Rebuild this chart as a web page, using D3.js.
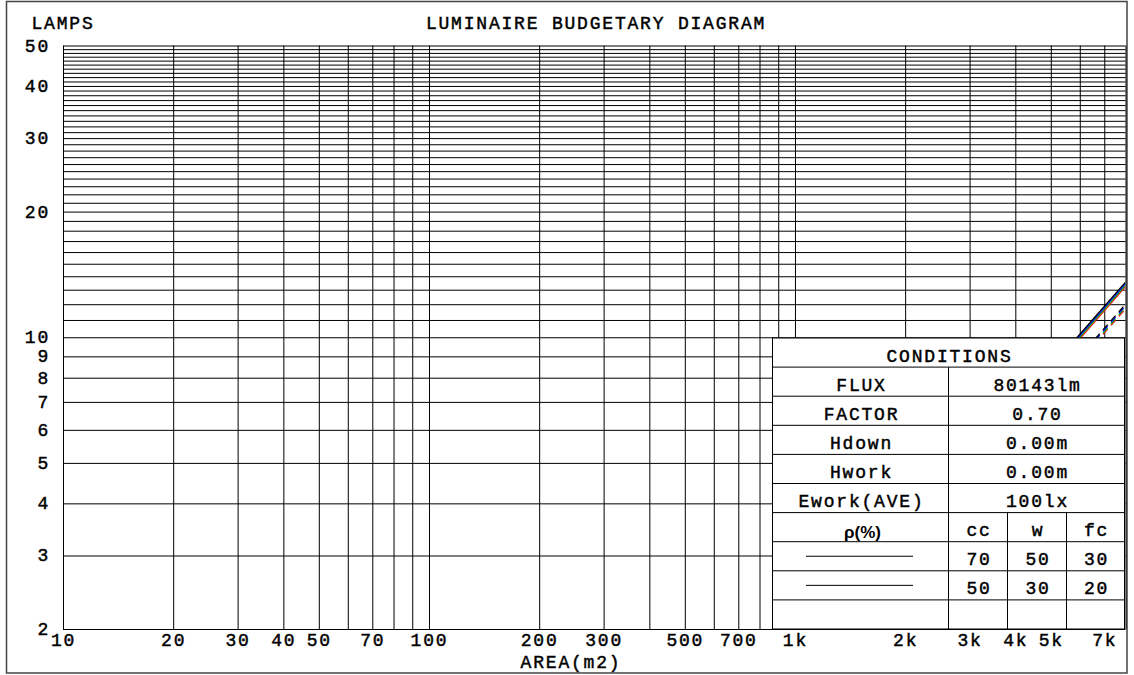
<!DOCTYPE html>
<html>
<head>
<meta charset="utf-8">
<script src="https://cdn.jsdelivr.net/npm/d3@7"></script>
<style>
  html, body { margin: 0; padding: 0; background: #fff; }
  svg { display: block; }
  .mono { font-family: "Liberation Mono", "DejaVu Sans Mono", monospace; font-size: 18px; letter-spacing: 1.8px; fill: #000; stroke: #000; stroke-width: 0.45px; }
</style>
</head>
<body>
<svg id="chart" width="1134" height="675"></svg>
<script>
// ---------- data ----------
const xTickValues = [10, 20, 30, 40, 50, 70, 100, 200, 300, 500, 700, 1000, 2000, 3000, 4000, 5000, 7000];
const xTickLabels = ["10", "20", "30", "40", "50", "70", "100", "200", "300", "500", "700", "1k", "2k", "3k", "4k", "5k", "7k"];
const xGridValues = [10, 20, 30, 40, 50, 60, 70, 80, 90,
                     100, 200, 300, 400, 500, 600, 700, 800, 900,
                     1000, 2000, 3000, 4000, 5000, 6000, 7000, 8000];
const yTickValues = [2, 3, 4, 5, 6, 7, 8, 9, 10, 20, 30, 40, 50];
const yGridValues = d3.range(2, 51);

// lamp lines: area end points and lamps read at those areas
const lineAreas = [2000, 8000];
const solidBlack = [3.39, 13.55];
const solidBlue  = [3.36, 13.44];
const solidGreen = [3.33, 13.33];
const solidRed   = [3.31, 13.22];
const dashBlack  = [3.00, 12.00];
const dashBlue   = [2.98, 11.90];
const dashGreen  = [2.95, 11.80];
const dashRed    = [2.93, 11.70];

const condLabels = ["FLUX", "FACTOR", "Hdown", "Hwork", "Ework(AVE)"];
const condValues = ["80143lm", "0.70", "0.00m", "0.00m", "100lx"];
const reflHeaders = ["cc", "w", "fc"];
const reflRows = [[70, 50, 30], [50, 30, 20]];

// ---------- layout ----------
const svg = d3.select("#chart");
const x = d3.scaleLog().domain([10, 8000]).range([63, 1125.5]);
const y = d3.scaleLog().domain([2, 50]).range([629, 45.5]);
const x0 = x.range()[0], x1 = x.range()[1], yb = y.range()[0], yt = y.range()[1];

// outer frame
svg.append("rect").attr("x", 6.5).attr("y", 1.5).attr("width", 1120.5).attr("height", 671.5)
  .attr("fill", "none").attr("stroke", "#444").attr("stroke-width", 1.5);

// grid via axes
svg.append("g").attr("transform", `translate(0,${yb})`)
  .call(d3.axisBottom(x).tickValues(xGridValues).tickSize(-(yb - yt)).tickFormat(""))
  .call(g => g.select(".domain").remove())
  .call(g => g.selectAll(".tick line").attr("stroke", "#000").attr("stroke-width", 1));

svg.append("g").attr("transform", `translate(${x0},0)`)
  .call(d3.axisLeft(y).tickValues(yGridValues).tickSize(-(x1 - x0)).tickFormat(""))
  .call(g => g.select(".domain").remove())
  .call(g => g.selectAll(".tick line").attr("stroke", "#000").attr("stroke-width", 1));

// axis labels
svg.append("g").attr("transform", `translate(0,${yb})`)
  .call(d3.axisBottom(x).tickValues(xTickValues).tickSize(0)
        .tickFormat((d, i) => xTickLabels[i]))
  .call(g => g.select(".domain").remove())
  .call(g => g.selectAll(".tick text").attr("class", "mono").attr("y", 17).attr("dy", null));

svg.append("g").attr("transform", `translate(${x0},0)`)
  .call(d3.axisLeft(y).tickValues(yTickValues).tickSize(0).tickFormat(d3.format("d")))
  .call(g => g.select(".domain").remove())
  .call(g => g.selectAll(".tick text").attr("class", "mono").attr("x", -13).attr("dy", "5.5px")
        .attr("text-anchor", "end"));
svg.selectAll("g").attr("font-size", null).attr("font-family", null);

// titles
svg.append("text").attr("class", "mono").attr("x", 63).attr("y", 29).attr("text-anchor", "middle").text("LAMPS");
svg.append("text").attr("class", "mono").attr("x", 596).attr("y", 29).attr("text-anchor", "middle").text("LUMINAIRE BUDGETARY DIAGRAM");
svg.append("text").attr("class", "mono").attr("x", 571).attr("y", 668).attr("text-anchor", "middle").text("AREA(m2)");

// lamp lines
svg.append("clipPath").attr("id", "plotclip").append("rect")
  .attr("x", x0).attr("y", yt).attr("width", x1 - x0).attr("height", yb - yt);
const line = d3.line().x(d => x(d[0])).y(d => y(d[1]));
const series = [
  { v: dashRed, c: "#ff0000", dash: "7,5" },
  { v: dashGreen, c: "#00c800", dash: "7,5" },
  { v: dashBlue, c: "#0000ff", dash: "7,5" },
  { v: dashBlack, c: "#000000", dash: "7,5" },
  { v: solidRed, c: "#ff0000", dash: null },
  { v: solidGreen, c: "#00c800", dash: null },
  { v: solidBlue, c: "#0000ff", dash: null },
  { v: solidBlack, c: "#000000", dash: null }
];
const lg = svg.append("g").attr("clip-path", "url(#plotclip)");
series.forEach(s => {
  lg.append("path").datum(lineAreas.map((a, i) => [a, s.v[i]]))
    .attr("d", line).attr("fill", "none").attr("stroke", s.c).attr("stroke-width", 1.3)
    .attr("stroke-dasharray", s.dash);
});

// conditions table
const tx0 = 772.5, tx1 = 1124.5, tmid = 948.5, c1 = 1007.5, c2 = 1066.5;
const ty0 = 338, ty1 = 629, nRows = 10, rh = (ty1 - ty0) / nRows;
const tg = svg.append("g");
tg.append("rect").attr("x", tx0).attr("y", ty0).attr("width", tx1 - tx0).attr("height", ty1 - ty0)
  .attr("fill", "#fff").attr("stroke", "#000").attr("stroke-width", 1);
for (let i = 1; i < nRows; i++) {
  tg.append("line").attr("x1", tx0).attr("x2", tx1).attr("y1", ty0 + i * rh).attr("y2", ty0 + i * rh)
    .attr("stroke", "#000").attr("stroke-width", 1);
}
tg.append("line").attr("x1", tmid).attr("x2", tmid).attr("y1", ty0 + rh).attr("y2", ty1).attr("stroke", "#000");
[c1, c2].forEach(cx => tg.append("line").attr("x1", cx).attr("x2", cx)
  .attr("y1", ty0 + 6 * rh).attr("y2", ty1).attr("stroke", "#000"));

const base = i => ty0 + (i + 1) * rh - 5.5;
tg.append("text").attr("class", "mono").attr("x", (tx0 + tx1) / 2 + 1).attr("y", base(0))
  .attr("text-anchor", "middle").text("CONDITIONS");
condLabels.forEach((t, i) => {
  tg.append("text").attr("class", "mono").attr("x", (tx0 + tmid) / 2 + 1).attr("y", base(i + 1))
    .attr("text-anchor", "middle").text(t);
  tg.append("text").attr("class", "mono").attr("x", (tmid + tx1) / 2 + 1).attr("y", base(i + 1))
    .attr("text-anchor", "middle").text(condValues[i]);
});
tg.append("text").attr("x", (tx0 + tmid) / 2 + 2).attr("y", base(6) + 1.5)
  .attr("text-anchor", "middle").attr("font-family", "Liberation Sans, Arial, sans-serif")
  .attr("font-weight", "bold").attr("font-size", 17).text("ρ(%)");
const colCenters = [(tmid + c1) / 2, (c1 + c2) / 2, (c2 + tx1) / 2];
reflHeaders.forEach((t, j) => {
  tg.append("text").attr("class", "mono").attr("x", colCenters[j] + 1).attr("y", base(6))
    .attr("text-anchor", "middle").text(t);
});
reflRows.forEach((row, r) => {
  const cy = ty0 + (7 + r + 0.5) * rh;
  tg.append("line").attr("x1", 806).attr("x2", 913).attr("y1", cy).attr("y2", cy)
    .attr("stroke", "#000").attr("stroke-width", 1);
  row.forEach((v, j) => {
    tg.append("text").attr("class", "mono").attr("x", colCenters[j] + 1).attr("y", base(7 + r))
      .attr("text-anchor", "middle").text(v);
  });
});
</script>
</body>
</html>
